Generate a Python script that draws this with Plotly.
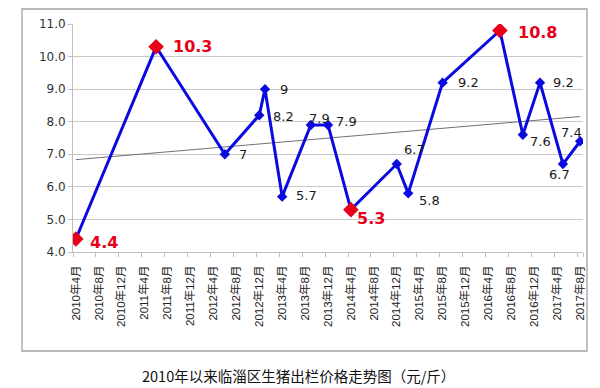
import numpy as np
import plotly.graph_objects as go

# ---- data ----
dates = ["2010-04", "2011-06", "2012-06", "2012-12", "2013-01", "2013-04", "2013-09",
         "2013-12", "2014-04", "2014-12", "2015-02", "2015-08", "2016-06", "2016-10",
         "2017-01", "2017-05", "2017-08"]
prices = [4.4, 10.3, 7.0, 8.2, 9.0, 5.7, 7.9, 7.9, 5.3, 6.7, 5.8, 9.2, 10.8, 7.6, 9.2, 6.7, 7.4]
highlight = [True, True, False, False, False, False, False, False, True, False, False,
             False, True, False, False, False, False]
tick_labels = ["2010年4月", "2010年8月", "2010年12月", "2011年4月", "2011年8月", "2011年12月",
               "2012年4月", "2012年8月", "2012年12月", "2013年4月", "2013年8月", "2013年12月",
               "2014年4月", "2014年8月", "2014年12月", "2015年4月", "2015年8月", "2015年12月",
               "2016年4月", "2016年8月", "2016年12月", "2017年4月", "2017年8月"]
title_text = "2010年以来临淄区生猪出栏价格走势图（元/斤）"

# label offsets (px): dx to left edge of text, dy downward
label_dx = [12, 15, 12, 12, 13, 12, -4, 6, 4, 5, 9, 13, 16, 5, 11, -16, -21]
label_dy = [4, 0, 0, 1, 0, -1, -6, -3, 9, -15, 7, 0, 2, 7, 0, 10, -9]

def month_index(s):
    y, m = s.split("-")
    return (int(y) - 2010) * 12 + (int(m) - 4)

def label_month(s):
    y = int(s[:4]); m = int(s[5:s.index("月")])
    return (y - 2010) * 12 + (m - 4)

xs = np.array([month_index(d) for d in dates])
ys = np.array(prices)
tickvals = [label_month(t) for t in tick_labels]

# linear trend
slope, intercept = np.polyfit(xs, ys, 1)
trend_x = np.array([xs.min(), xs.max()])
trend_y = slope * trend_x + intercept

BLUE = "#0A0AE0"
RED = "#E8001A"

W, H = 600, 388
L, R, T, B = 73, 17, 24, 136
pw, ph = W - L - R, H - T - B

fig = go.Figure()
fig.add_trace(go.Scatter(x=trend_x, y=trend_y, mode="lines",
                         line=dict(color="#707070", width=1), hoverinfo="skip",
                         showlegend=False))
fig.add_trace(go.Scatter(
    x=xs, y=ys, mode="lines+markers",
    line=dict(color=BLUE, width=3),
    marker=dict(symbol="diamond", opacity=1,
                size=[12 if h else 8 for h in highlight],
                color=[RED if h else BLUE for h in highlight],
                line=dict(width=0)),
    showlegend=False))
# overlay axis for tick marks at slot boundaries
fig.add_trace(go.Scatter(x=[xs.min()], y=[ys.min()], xaxis="x2", mode="markers",
                         marker=dict(opacity=0), hoverinfo="skip", showlegend=False))

annotations = []
for x, y, h, dx, dy in zip(xs, ys, highlight, label_dx, label_dy):
    txt = ("%g" % y)
    annotations.append(dict(
        x=x, y=y, xref="x", yref="y", showarrow=False,
        text=("<b>%s</b>" % txt) if h else txt,
        xanchor="left", yanchor="middle", xshift=dx, yshift=-dy,
        font=dict(family="DejaVu Sans", size=16 if h else 13,
                  color=RED if h else "#1a1a1a")))
annotations.append(dict(
    x=(298 - L) / pw, y=(H - B - 375) / ph, xref="paper", yref="paper",
    showarrow=False, text=title_text, xanchor="center", yanchor="middle",
    font=dict(family="Noto Sans CJK SC", size=14.5, color="#111111")))

shapes = [dict(type="rect", xref="paper", yref="paper",
               x0=(22 - L) / pw, x1=(587 - L) / pw,
               y0=(H - B - 351) / ph, y1=(H - B - 9) / ph,
               line=dict(color="#A0A0A0", width=1.3), layer="below")]

fig.update_layout(
    width=W, height=H, margin=dict(l=L, r=R, t=T, b=B),
    paper_bgcolor="white", plot_bgcolor="white",
    xaxis=dict(range=[-0.5, 88.5], tickvals=tickvals, ticktext=tick_labels,
               tickangle=-90, ticks="", showgrid=False, zeroline=False,
               showline=True, linecolor="#BFBFBF", linewidth=1,
               ticklabelstandoff=8,
               tickfont=dict(family="Liberation Sans, Noto Sans CJK SC", size=11.5,
                             color="#222222")),
    xaxis2=dict(range=[-0.5, 88.5], overlaying="x", anchor="y", side="bottom",
                tickvals=[v - 0.5 for v in tickvals] + [88.5], ticks="outside",
                ticklen=4, tickcolor="#BFBFBF", showticklabels=False,
                showgrid=False, zeroline=False),
    yaxis=dict(range=[4, 11], dtick=1, tickformat=".1f", ticks="outside",
               ticklen=4, tickcolor="#BFBFBF", showgrid=True, gridcolor="#C8C8C8",
               gridwidth=1, zeroline=False, showline=True, linecolor="#BFBFBF",
               tickfont=dict(family="DejaVu Sans", size=12, color="#333333")),
    annotations=annotations, shapes=shapes,
)

fig.write_html("out.html", config={"displayModeBar": False},
               post_script="document.body.style.margin='0px';")
